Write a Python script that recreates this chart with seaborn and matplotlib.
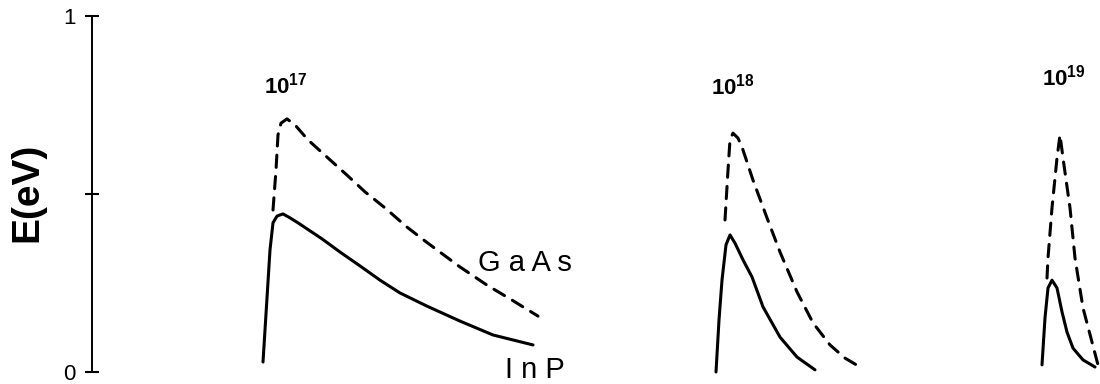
import matplotlib
matplotlib.use("Agg")
import matplotlib.pyplot as plt
import seaborn as sns
import pandas as pd

sns.set_theme(style="white")
plt.rcParams['font.family'] = ['Liberation Sans', 'DejaVu Sans']
plt.rcParams['text.color'] = 'black'
plt.rcParams['mathtext.fontset'] = 'custom'
plt.rcParams['mathtext.rm'] = 'Liberation Sans'
plt.rcParams['mathtext.bf'] = 'Liberation Sans:bold'

# distance (arbitrary units) and energy E (eV)
inp_17_x = [263, 270, 273, 277, 283, 290, 298, 322, 340, 360, 380, 400, 427, 460, 493, 533]
inp_17_e = [0.028, 0.343, 0.419, 0.438, 0.444, 0.433, 0.419, 0.374, 0.337, 0.298,
            0.258, 0.222, 0.185, 0.143, 0.104, 0.076]
gaas_17_x = [273, 276, 278, 281, 287, 295, 308, 330, 347, 365, 385, 407, 425, 460, 487, 512, 538]
gaas_17_e = [0.455, 0.567, 0.666, 0.699, 0.711, 0.694, 0.652, 0.596, 0.553, 0.506,
             0.461, 0.407, 0.368, 0.295, 0.244, 0.202, 0.157]

inp_18_x = [716, 719, 722, 726, 730, 735, 743, 752, 763, 780, 797, 815]
inp_18_e = [0.0, 0.146, 0.258, 0.357, 0.385, 0.362, 0.315, 0.267, 0.183, 0.098, 0.042, 0.006]
gaas_18_x = [725, 728, 730, 733, 738, 742, 753, 767, 780, 797, 813, 830, 845, 860]
gaas_18_e = [0.427, 0.567, 0.652, 0.671, 0.657, 0.632, 0.539, 0.433, 0.337, 0.225,
             0.138, 0.076, 0.039, 0.014]

inp_19_x = [1042, 1045, 1048, 1052, 1057, 1062, 1067, 1073, 1083, 1095]
inp_19_e = [0.020, 0.152, 0.236, 0.258, 0.236, 0.169, 0.112, 0.067, 0.034, 0.014]
gaas_19_x = [1047, 1048, 1052, 1057, 1060, 1063, 1070, 1075, 1083, 1092, 1098]
gaas_19_e = [0.264, 0.320, 0.461, 0.601, 0.666, 0.601, 0.461, 0.320, 0.180, 0.084, 0.020]

doping_labels = [r'$\mathbf{10^{17}}$', r'$\mathbf{10^{18}}$', r'$\mathbf{10^{19}}$']
doping_x = [286, 733, 1064]
doping_y = [0.806, 0.803, 0.826]

fig = plt.figure(figsize=(11, 3.84), dpi=100)
ax = fig.add_axes([92 / 1100, 12 / 384, 1008 / 1100, 356 / 384])

dash = (0, (4.0, 3.0))
curves = [
    (inp_17_x, inp_17_e, '-'), (gaas_17_x, gaas_17_e, dash),
    (inp_18_x, inp_18_e, '-'), (gaas_18_x, gaas_18_e, dash),
    (inp_19_x, inp_19_e, '-'), (gaas_19_x, gaas_19_e, dash),
]
for xs, es, ls in curves:
    df = pd.DataFrame({'x': xs, 'E': es})
    sns.lineplot(data=df, x='x', y='E', sort=False, estimator=None, ax=ax,
                 color='black', linewidth=2.2, linestyle=ls, clip_on=False,
                 solid_joinstyle='round', dash_joinstyle='round',
                 dash_capstyle='round')

for lab, x, y in zip(doping_labels, doping_x, doping_y):
    ax.text(x, y, lab, ha='center', va='center', fontsize=16)

ax.text(525, 0.306, 'G a A s', ha='center', va='center', fontsize=21)
ax.text(535, 0.006, 'I n P', ha='center', va='center', fontsize=21)

ax.set_xlim(92, 1100)
ax.set_ylim(0, 1)
for s in ['top', 'right', 'bottom']:
    ax.spines[s].set_visible(False)
ax.spines['left'].set_linewidth(1.4)
ax.spines['left'].set_color('black')
ax.set_xticks([])
ax.set_yticks([0, 0.5, 1])
ax.set_yticklabels(['0', '', '1'])
ax.tick_params(axis='y', direction='inout', length=10, width=1.5, pad=7,
               labelsize=16, colors='black', left=True)
ax.set_xlabel('')
ax.set_ylabel('')
fig.text(27 / 1100, 1 - 192 / 384, 'E(eV)', rotation=90, ha='center', va='center',
         fontsize=28, fontweight='bold')

fig.savefig('out.png', dpi=100, facecolor='white')
